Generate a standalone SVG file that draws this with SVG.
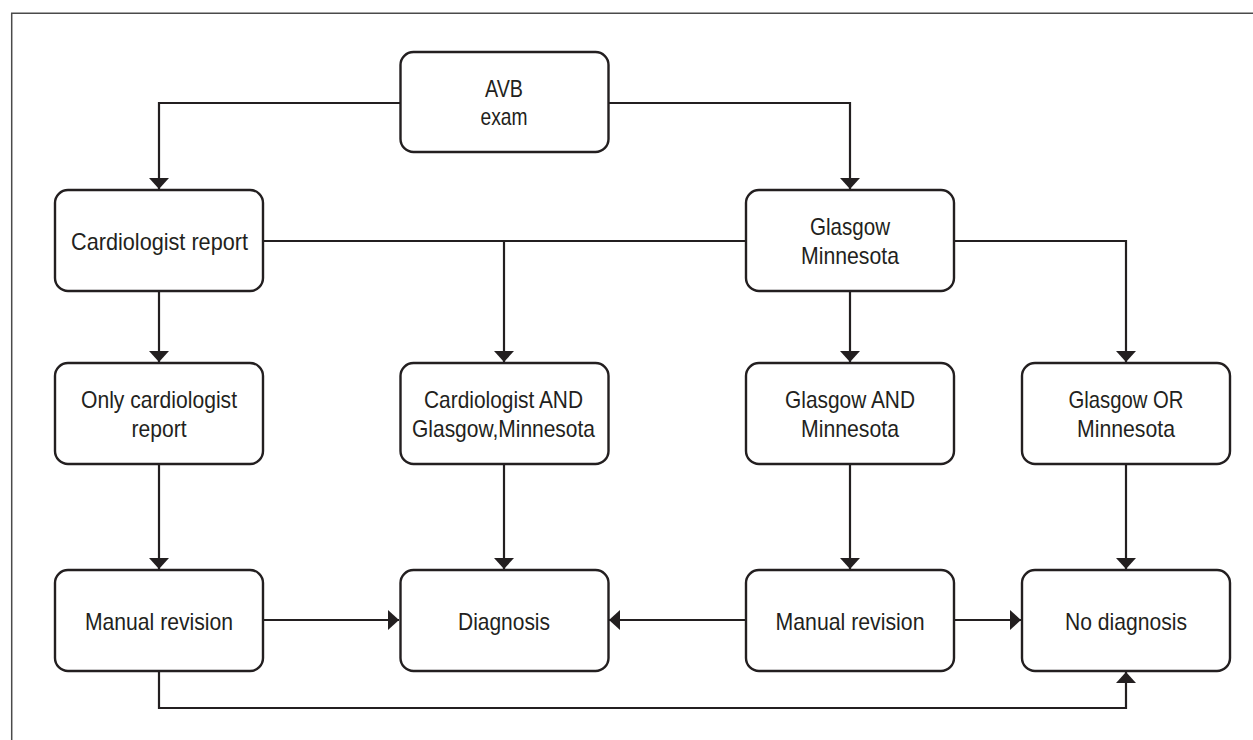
<svg xmlns="http://www.w3.org/2000/svg" width="1253" height="740" viewBox="0 0 1253 740">
<style>
.box{fill:#fff;stroke:#231f20;stroke-width:2.4}
.t{font-family:"Liberation Sans",Arial,sans-serif;font-size:24px;fill:#231f20;text-anchor:middle}
.c{fill:none;stroke:#231f20;stroke-width:2.2}
</style>
<defs>
<marker id="ah" viewBox="0 0 11 20" refX="11" refY="10" markerWidth="11" markerHeight="20" markerUnits="userSpaceOnUse" orient="auto">
<path d="M0,0 L11,10 L0,20 z" fill="#231f20"/>
</marker>
</defs>
<rect width="1253" height="740" fill="#fff"/>
<path d="M11.7,740 V13.3 H1253" fill="none" stroke="#4a4a4a" stroke-width="1.5"/>
<g id="connectors">
<path class="c" d="M400,103 H159 V189" marker-end="url(#ah)"/>
<path class="c" d="M608,103 H850 V189" marker-end="url(#ah)"/>
<path class="c" d="M263,241 H746"/>
<path class="c" d="M504,241 V362" marker-end="url(#ah)"/>
<path class="c" d="M954,241 H1126 V362" marker-end="url(#ah)"/>
<path class="c" d="M159,291 V362" marker-end="url(#ah)"/>
<path class="c" d="M850,291 V362" marker-end="url(#ah)"/>
<path class="c" d="M159,464 V569" marker-end="url(#ah)"/>
<path class="c" d="M504,464 V569" marker-end="url(#ah)"/>
<path class="c" d="M850,464 V569" marker-end="url(#ah)"/>
<path class="c" d="M1126,464 V569" marker-end="url(#ah)"/>
<path class="c" d="M263,620 H399" marker-end="url(#ah)"/>
<path class="c" d="M746,620 H609" marker-end="url(#ah)"/>
<path class="c" d="M954,620 H1021" marker-end="url(#ah)"/>
<path class="c" d="M159,671 V708 H1126 V672" marker-end="url(#ah)"/>
</g>
<g id="avb"><rect class="box" x="400.5" y="52" width="208" height="100" rx="13"/><text class="t" x="504" y="96.5" textLength="38" lengthAdjust="spacingAndGlyphs">AVB</text><text class="t" x="504" y="125" textLength="47" lengthAdjust="spacingAndGlyphs">exam</text></g>
<g id="cardio"><rect class="box" x="55" y="190" width="208" height="101" rx="13"/><text class="t" x="159.5" y="250" textLength="177" lengthAdjust="spacingAndGlyphs">Cardiologist report</text></g>
<g id="glasgow"><rect class="box" x="746" y="190" width="208" height="101" rx="13"/><text class="t" x="850" y="235" textLength="80" lengthAdjust="spacingAndGlyphs">Glasgow</text><text class="t" x="850" y="264" textLength="98" lengthAdjust="spacingAndGlyphs">Minnesota</text></g>
<g id="only"><rect class="box" x="55" y="363" width="208" height="101" rx="13"/><text class="t" x="159" y="408" textLength="156" lengthAdjust="spacingAndGlyphs">Only cardiologist</text><text class="t" x="159" y="436.5" textLength="55" lengthAdjust="spacingAndGlyphs">report</text></g>
<g id="cardioand"><rect class="box" x="400.5" y="363" width="208" height="101" rx="13"/><text class="t" x="503.5" y="408" textLength="159" lengthAdjust="spacingAndGlyphs">Cardiologist AND</text><text class="t" x="503.5" y="436.5" textLength="183" lengthAdjust="spacingAndGlyphs">Glasgow,Minnesota</text></g>
<g id="gand"><rect class="box" x="746" y="363" width="208" height="101" rx="13"/><text class="t" x="850" y="408" textLength="130" lengthAdjust="spacingAndGlyphs">Glasgow AND</text><text class="t" x="850" y="436.5" textLength="98" lengthAdjust="spacingAndGlyphs">Minnesota</text></g>
<g id="gor"><rect class="box" x="1022" y="363" width="208" height="101" rx="13"/><text class="t" x="1126" y="408" textLength="115" lengthAdjust="spacingAndGlyphs">Glasgow OR</text><text class="t" x="1126" y="436.5" textLength="98" lengthAdjust="spacingAndGlyphs">Minnesota</text></g>
<g id="manual1"><rect class="box" x="55" y="570" width="208" height="101" rx="13"/><text class="t" x="159" y="629.5" textLength="148" lengthAdjust="spacingAndGlyphs">Manual revision</text></g>
<g id="diagnosis"><rect class="box" x="400.5" y="570" width="208" height="101" rx="13"/><text class="t" x="504" y="629.5" textLength="92" lengthAdjust="spacingAndGlyphs">Diagnosis</text></g>
<g id="manual2"><rect class="box" x="746" y="570" width="208" height="101" rx="13"/><text class="t" x="850" y="629.5" textLength="149" lengthAdjust="spacingAndGlyphs">Manual revision</text></g>
<g id="nodiag"><rect class="box" x="1022" y="570" width="208" height="101" rx="13"/><text class="t" x="1126" y="629.5" textLength="122" lengthAdjust="spacingAndGlyphs">No diagnosis</text></g>
</svg>
